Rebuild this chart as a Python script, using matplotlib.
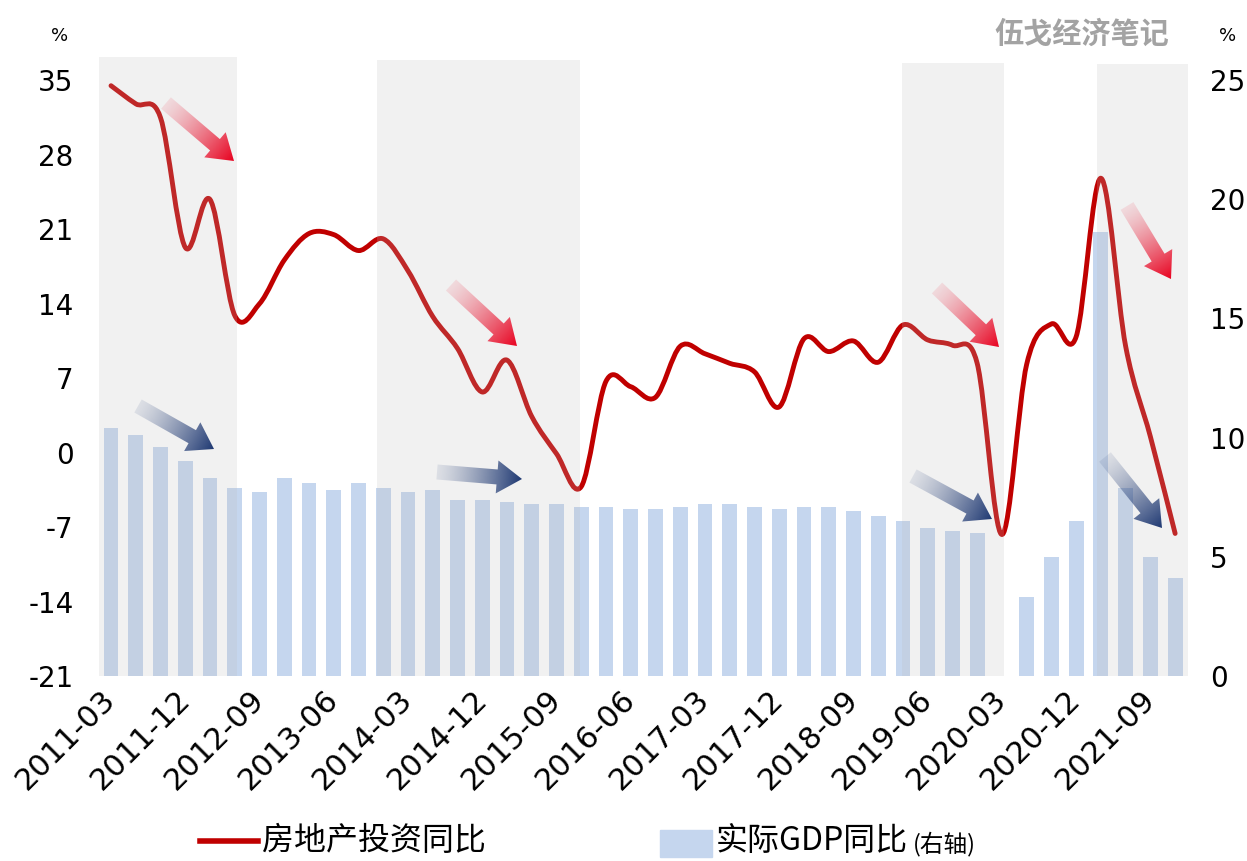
import numpy as np
import matplotlib
matplotlib.use("Agg")
import matplotlib.pyplot as plt
from matplotlib.path import Path
from matplotlib.patches import PathPatch, Polygon, Rectangle
from matplotlib.lines import Line2D

CJK = ["Noto Sans CJK SC", "DejaVu Sans"]
plt.rcParams["font.family"] = ["DejaVu Sans", "Noto Sans CJK SC"]
plt.rcParams["axes.unicode_minus"] = False

# quarterly categories 2011-03 .. 2021-12
quarters = [f"{y}-{m:02d}" for y in range(2011, 2022) for m in (3, 6, 9, 12)]
tick_labels = quarters[::3]

# real estate investment YoY (left axis, %)
invest_yoy = [34.5, 32.8, 31.5, 19.3, 23.8, 12.9, 14.0, 18.1, 20.6, 20.5, 19.0, 20.1,
              17.1, 12.8, 9.8, 5.7, 8.7, 3.4, -0.1, -3.2, 6.7, 6.2, 5.2, 10.0,
              9.3, 8.4, 7.6, 4.3, 10.7, 9.5, 10.5, 8.5, 12.0, 10.6, 10.1, 8.4,
              -7.7, 8.3, 12.1, 10.9, 25.8, 10.0, 1.5, -7.6]
# real GDP YoY (right axis, %)
gdp_yoy = [10.4, 10.1, 9.6, 9.0, 8.3, 7.9, 7.7, 8.3, 8.1, 7.8, 8.1, 7.9,
           7.7, 7.8, 7.4, 7.4, 7.3, 7.2, 7.2, 7.1, 7.1, 7.0, 7.0, 7.1,
           7.2, 7.2, 7.1, 7.0, 7.1, 7.1, 6.9, 6.7, 6.5, 6.2, 6.1, 6.0,
           -6.8, 3.3, 5.0, 6.5, 18.6, 7.9, 5.0, 4.1]

# shaded periods, in category positions
bands = [(-0.5, 5.1, 37.2), (10.75, 18.95, 36.9), (31.95, 36.1, 36.6), (39.85, 43.5, 36.5)]

RED = "#c00000"
BAR = "#c5d6ee"


def smooth_path(xs, ys):
    # excel-like smoothed line: catmull-rom segments as cubic beziers
    p = np.column_stack([xs, ys]).astype(float)
    verts = [p[0]]
    codes = [Path.MOVETO]
    n = len(p)
    for i in range(n - 1):
        p0 = p[i - 1] if i > 0 else p[i]
        p3 = p[i + 2] if i + 2 < n else p[i + 1]
        c1 = p[i] + (p[i + 1] - p0) / 6.0
        c2 = p[i + 1] - (p3 - p[i]) / 6.0
        verts += [c1, c2, p[i + 1]]
        codes += [Path.CURVE4] * 3
    return Path(verts, codes)


def grad_arrow(ov, tail, tip, rgb, shaft=15, head_w=33, head_l=25):
    tail = np.array(tail, float)
    tip = np.array(tip, float)
    d = tip - tail
    L = np.hypot(*d)
    u = d / L
    nv = np.array([-u[1], u[0]])
    neck = tip - u * head_l
    verts = [tail + nv * shaft / 2, neck + nv * shaft / 2, neck + nv * head_w / 2, tip,
             neck - nv * head_w / 2, neck - nv * shaft / 2, tail - nv * shaft / 2]
    poly = Polygon(verts, closed=True, fc="none", ec="none")
    ov.add_patch(poly)
    vx = [v[0] for v in verts]
    vy = [v[1] for v in verts]
    x0, x1, y0, y1 = min(vx) - 1, max(vx) + 1, min(vy) - 1, max(vy) + 1
    gx, gy = np.meshgrid(np.linspace(x0, x1, 120), np.linspace(y0, y1, 120))
    t = np.clip(((gx - tail[0]) * u[0] + (gy - tail[1]) * u[1]) / L, 0, 1)
    rgba = np.zeros((120, 120, 4))
    rgba[..., :3] = rgb
    rgba[..., 3] = 0.1 + 0.9 * t ** 1.3
    im = ov.imshow(rgba, extent=(x0, x1, y1, y0), origin="upper",
                   interpolation="bilinear", aspect="auto")
    im.set_clip_path(poly)


fig = plt.figure(figsize=(12.47, 8.61), dpi=100)
ax = fig.add_axes([0.0791, 0.2149, 0.8732, 0.7189])
x = np.arange(len(quarters))

ax.bar(x, gdp_yoy, width=0.6, color=BAR, zorder=1)
ax.set_ylim(0, 25.96)
ax.set_yticks([0, 5, 10, 15, 20, 25])
ax.set_xlim(-0.5, 43.5)
ax.set_xticks(x[::3])
ax.set_xticklabels(tick_labels, rotation=45, ha="right", va="center",
                   rotation_mode="anchor", fontsize=22)
ax.tick_params(axis="x", length=0, pad=14)

axl = ax.twinx()
# twinx moves the original ticks to the left, so swap sides afterwards
ax.yaxis.tick_right()
ax.tick_params(axis="y", length=0, pad=16, labelsize=20)
axl.yaxis.tick_left()
axl.set_ylim(-21, 37.2)
axl.set_yticks(range(-21, 36, 7))
axl.tick_params(axis="y", length=0, pad=18, labelsize=20)
axl.add_patch(PathPatch(smooth_path(x, invest_yoy), fc="none", ec=RED, lw=3.5,
                        capstyle="round", joinstyle="round", zorder=3))

for x0, x1, top in bands:
    axl.fill_between([x0, x1], -21, top, color="#bebebe", alpha=0.21, lw=0, zorder=5)

for a in (ax, axl):
    for s in a.spines.values():
        s.set_visible(False)

# overlay in image pixels for the trend arrows
ov = fig.add_axes([0, 0, 1, 1], zorder=10)
ov.set_axis_off()
red_rgb = (0.91, 0.0, 0.12)
blue_rgb = (0.12, 0.22, 0.45)
grad_arrow(ov, (166, 103), (234, 161), red_rgb)
grad_arrow(ov, (451, 285), (517, 346), red_rgb)
grad_arrow(ov, (937, 288), (999, 347), red_rgb)
grad_arrow(ov, (1127, 206), (1171, 279), red_rgb)
grad_arrow(ov, (138, 406), (214, 449), blue_rgb)
grad_arrow(ov, (437, 472), (522, 479), blue_rgb)
grad_arrow(ov, (913, 476), (992, 519), blue_rgb)
grad_arrow(ov, (1105, 457), (1162, 528), blue_rgb)
ov.set_xlim(0, 1247)
ov.set_ylim(861, 0)

# header texts
fig.text(60 / 1247, 1 - 36 / 861, "%", fontsize=13, ha="center", va="center")
fig.text(1228 / 1247, 1 - 36 / 861, "%", fontsize=13, ha="center", va="center")
fig.text(1082 / 1247, 1 - 34 / 861, "伍戈经济笔记", fontsize=21, fontweight="bold",
         color="#a3a3a3", ha="center", va="center", family=CJK)

# legend at the bottom
ly = 1 - 841 / 861
fig.add_artist(Line2D([200 / 1247, 258 / 1247], [ly, ly], color=RED, lw=4))
fig.text(262 / 1247, ly, "房地产投资同比", fontsize=23, va="center", family=CJK)
fig.add_artist(Rectangle((660 / 1247, 1 - 857 / 861), 52 / 1247, 27 / 861,
                         color=BAR, transform=fig.transFigure))
t2 = fig.text(716 / 1247, ly, "实际GDP同比", fontsize=23, va="center", family=CJK)
fig.canvas.draw()
bb = t2.get_window_extent()
fig.text((bb.x1 + 5) / 1247, ly - 0.004, "(右轴)", fontsize=17, va="center", family=CJK)

fig.savefig("out.png", dpi=100)
